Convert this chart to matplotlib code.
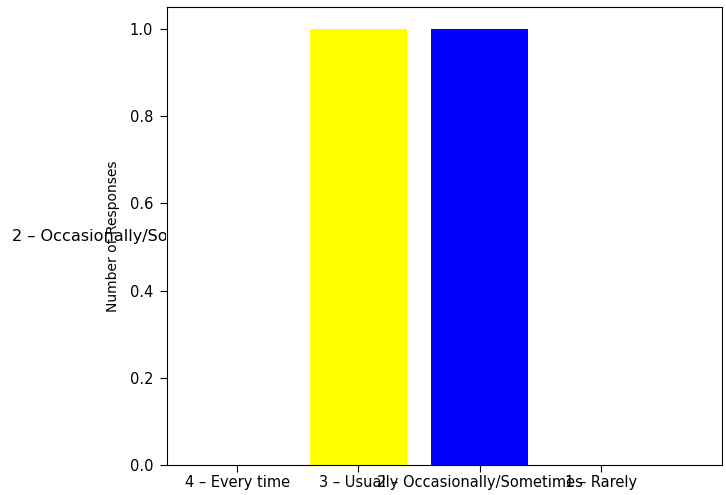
import matplotlib
matplotlib.use("Agg")
import matplotlib.pyplot as plt
from matplotlib.patches import Rectangle

categories = ["4 – Every time", "3 – Usually", "2 – Occasionally/Sometimes", "1 – Rarely"]
values = [0, 1, 1, 0]
colors = ["green", "yellow", "blue", "red"]
stray_label = "2 – Occasionally/Sometimes"

fig = plt.figure(figsize=(7.26, 4.95), dpi=100)
ax = fig.add_axes([167/726, 1-465/495, (722-167)/726, (465-7)/495])
x = list(range(len(categories)))
ax.bar(x, values, color=colors, width=0.8)
ax.set_xticks(x)
ax.set_xticklabels(categories, fontsize=10.5)
ax.tick_params(axis="y", labelsize=10.5, length=5, pad=5)
ax.tick_params(axis="x", length=5, pad=2.5)
ax.set_xlim(-0.58, 4.0)
ax.set_ylim(0, 1.05)
ax.set_ylabel("Number of Responses", fontsize=10)
ax.yaxis.set_label_coords(-0.085, 0.5)

t = fig.text(12/726, 1-237/495, stray_label, va="center", ha="left", fontsize=11.6)
clip = Rectangle((0, 0), 166/726, 1, transform=fig.transFigure, visible=False)
fig.add_artist(clip)
t.set_clip_path(clip)

fig.savefig("out.png", dpi=100)
